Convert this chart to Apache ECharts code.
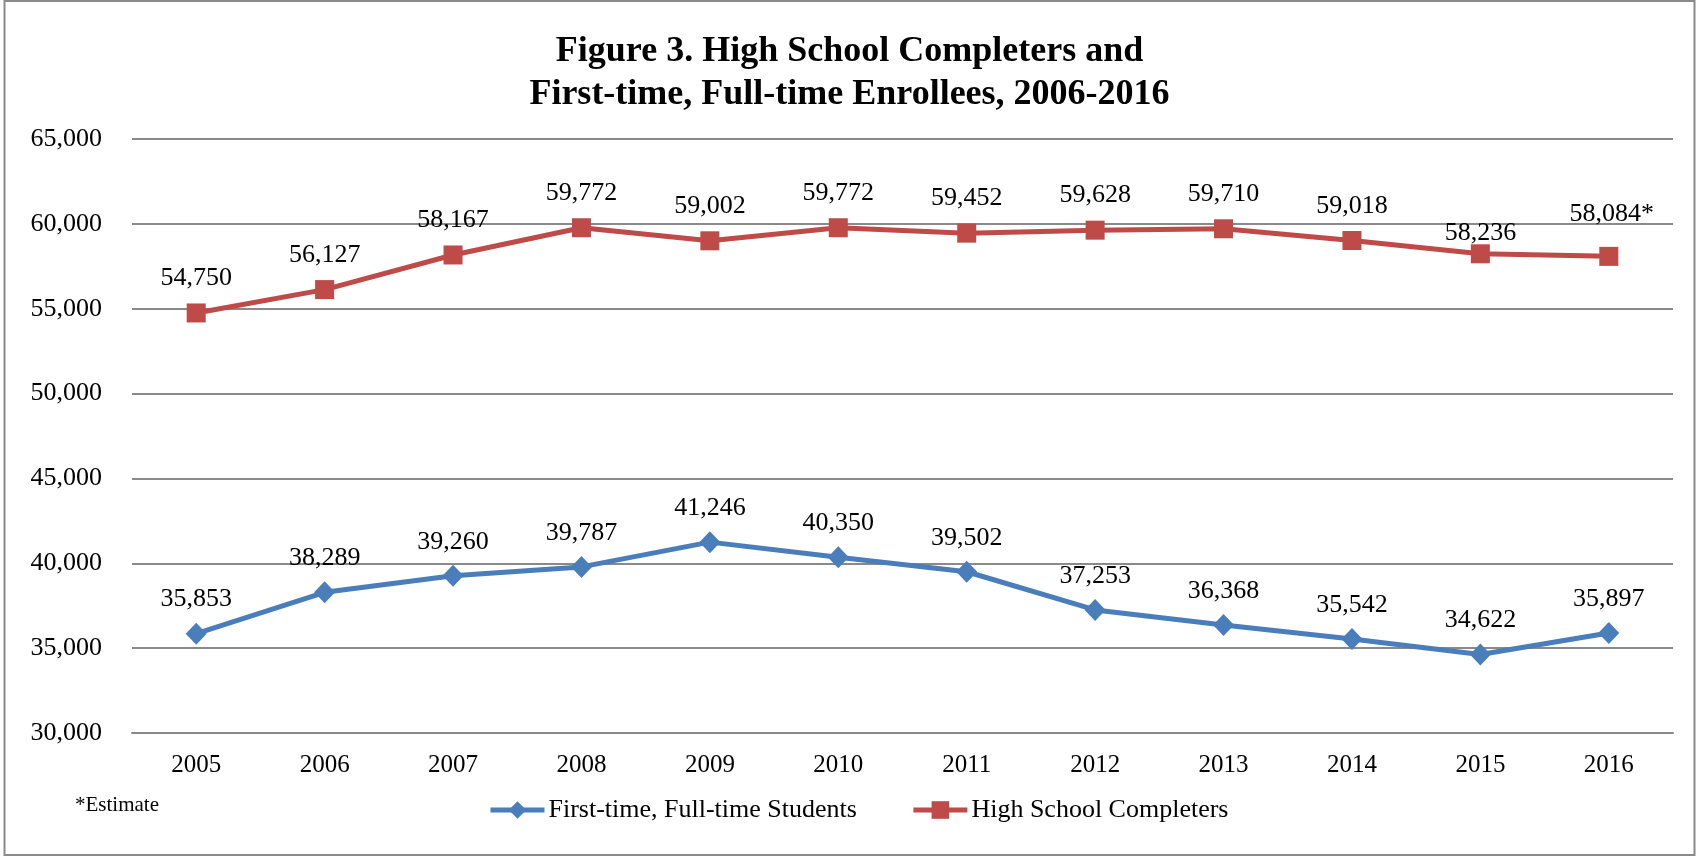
<!DOCTYPE html>
<html>
<head>
<meta charset="utf-8">
<script src="https://cdn.jsdelivr.net/npm/echarts@6/dist/echarts.min.js"></script>
<style>
html,body{margin:0;padding:0;background:#fff;}
#chart{width:1699px;height:857px;}
</style>
</head>
<body>
<div id="chart"></div>
<script>
const years = ['2005','2006','2007','2008','2009','2010','2011','2012','2013','2014','2015','2016'];
const firstTimeStudents = [35853, 38289, 39260, 39787, 41246, 40350, 39502, 37253, 36368, 35542, 34622, 35897];
const hsCompleters = [54750, 56127, 58167, 59772, 59002, 59772, 59452, 59628, 59710, 59018, 58236, 58084];
const yTicks = {min: 30000, max: 65000, interval: 5000};
const seriesNames = ['First-time, Full-time Students', 'High School Completers'];
const titleLines = ['Figure 3. High School Completers and', 'First-time, Full-time Enrollees, 2006-2016'];
const footnote = '*Estimate';

const FONT = '"Liberation Serif", "Times New Roman", serif';
const fmt = v => v.toLocaleString('en-US');

const blue = '#4A7EBB';
const red = '#BE4B48';

const redData = hsCompleters.map((v, i) => {
  const item = {value: v};
  if (i === 10) item.label = {distance: -2};
  if (i === 11) item.label = {distance: 20, offset: [3, 0], formatter: p => fmt(p.value) + '*'};
  return item;
});

const chart = echarts.init(document.getElementById('chart'), null, {renderer: 'canvas'});
chart.setOption({
  backgroundColor: '#fff',
  animation: false,
  title: {
    text: titleLines.join('\n'),
    left: 'center',
    top: 25,
    textStyle: {fontFamily: FONT, fontWeight: 'bold', fontSize: 36, lineHeight: 43, color: '#000'}
  },
  graphic: [
    {type: 'rect', shape: {x: 4.5, y: 1, width: 1690, height: 854}, style: {fill: 'none', stroke: '#8a8a8a', lineWidth: 2}, silent: true},
    {type: 'text', left: 75, top: 795, style: {text: footnote, font: '21px ' + FONT, fill: '#000'}}
  ],
  legend: {
    left: 483,
    top: 792,
    itemWidth: 54,
    itemHeight: 22,
    itemGap: 54,
    lineStyle: {width: 5},
    textStyle: {fontFamily: FONT, fontSize: 26, color: '#000', padding: [0, 0, 0, -1]},
    data: seriesNames
  },
  grid: {left: 132, right: 26, top: 139, bottom: 124, containLabel: false},
  xAxis: {
    type: 'category',
    data: years,
    boundaryGap: true,
    axisLine: {show: true, lineStyle: {color: '#8a8a8a', width: 2}},
    axisTick: {show: false},
    axisLabel: {fontFamily: FONT, fontSize: 25, color: '#000', margin: 20}
  },
  yAxis: {
    type: 'value',
    min: yTicks.min,
    max: yTicks.max,
    interval: yTicks.interval,
    axisLine: {show: false},
    axisTick: {show: false},
    axisLabel: {fontFamily: FONT, fontSize: 26, color: '#000', margin: 30, formatter: v => fmt(v)},
    splitLine: {lineStyle: {color: '#8a8a8a', width: 2}}
  },
  series: [
    {
      name: seriesNames[0],
      type: 'line',
      data: firstTimeStudents,
      symbol: 'diamond',
      symbolSize: [21, 22],
      lineStyle: {color: blue, width: 5},
      itemStyle: {color: blue},
      label: {show: true, position: 'top', distance: 10, fontFamily: FONT, fontSize: 26, color: '#000', formatter: p => fmt(p.value)}
    },
    {
      name: seriesNames[1],
      type: 'line',
      data: redData,
      symbol: 'rect',
      symbolSize: 19,
      lineStyle: {color: red, width: 5},
      itemStyle: {color: red},
      label: {show: true, position: 'top', distance: 12, fontFamily: FONT, fontSize: 26, color: '#000', formatter: p => fmt(p.value)}
    }
  ]
});
</script>
</body>
</html>
